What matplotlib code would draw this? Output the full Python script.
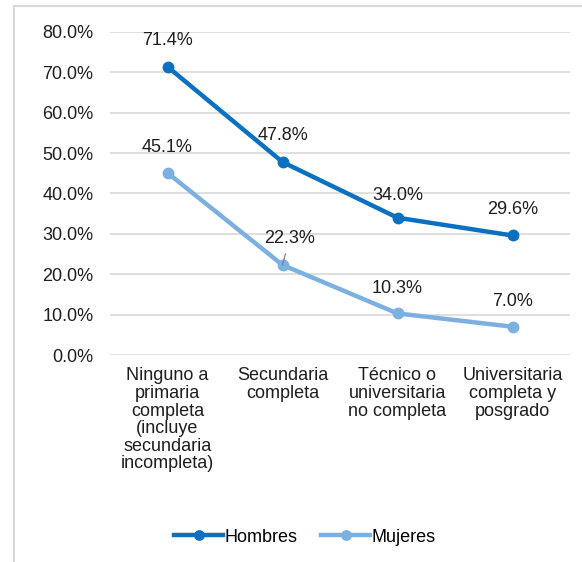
import matplotlib.pyplot as plt
from matplotlib.patches import Rectangle
from matplotlib.ticker import PercentFormatter

plt.rcParams['font.family'] = ['Liberation Sans', 'DejaVu Sans']

categories = ['Ninguno a\nprimaria\ncompleta\n(incluye\nsecundaria\nincompleta)',
              'Secundaria\ncompleta',
              'Técnico o\nuniversitaria\nno completa',
              'Universitaria\ncompleta y\nposgrado']
hombres = [71.4, 47.8, 34.0, 29.6]
mujeres = [45.1, 22.3, 10.3, 7.0]

c_h = '#0a70bf'
c_m = '#7cb0e0'
txt = '#1e1e1e'
fs = 13

fig = plt.figure(figsize=(5.82, 5.62), dpi=100)
# light frame round the chart (left/top edges visible)
fig.patches.append(Rectangle((14 / 582, -0.05), 1.0, 1 - 6 / 562 + 0.05,
                             transform=fig.transFigure, fill=False,
                             edgecolor='#d9d9d9', linewidth=1.5))

ax = fig.add_axes([110 / 582, 1 - 355 / 562, 460 / 582, 323 / 562])
x = list(range(len(categories)))

ax.plot(x, hombres, '-o', color=c_h, lw=3.2, ms=7.5, label='Hombres', zorder=3)
ax.plot(x, mujeres, '-o', color=c_m, lw=3.2, ms=7.5, label='Mujeres', zorder=3)

ax.set_xlim(-0.5, 3.5)
ax.set_ylim(0, 80)
ax.set_yticks(range(0, 81, 10))
ax.yaxis.set_major_formatter(PercentFormatter(decimals=1))
ax.set_xticks(x)
ax.set_xticklabels(categories, fontsize=fs, color=txt, linespacing=1.04)
ax.tick_params(axis='both', length=0, labelsize=fs, colors=txt)
ax.tick_params(axis='y', pad=12)
ax.tick_params(axis='x', pad=9)
ax.grid(axis='y', color='#d9d9d9', lw=1.2)
ax.set_axisbelow(True)
for s in ax.spines.values():
    s.set_visible(False)

for i, v in enumerate(hombres):
    dy = 16 if i == 2 else 19
    ax.annotate(f'{v:.1f}%', (i, v), xytext=(0, dy), textcoords='offset points',
                ha='center', va='center', fontsize=fs, color=txt)
for i, v in enumerate(mujeres):
    if i == 1:
        ax.annotate(f'{v:.1f}%', (i, v), xytext=(5, 19), textcoords='offset points',
                    ha='center', va='center', fontsize=fs, color=txt, zorder=5,
                    arrowprops=dict(arrowstyle='-', color='#7f7f7f', lw=0.9,
                                    shrinkA=3, shrinkB=0))
    else:
        ax.annotate(f'{v:.1f}%', (i, v), xytext=(0, 18), textcoords='offset points',
                    ha='center', va='center', fontsize=fs, color=txt)

fig.legend(loc='center', bbox_to_anchor=(305 / 582, 1 - 537 / 562), ncol=2,
           frameon=False, fontsize=fs, handlelength=2.7, handletextpad=0.1,
           columnspacing=1.3, markerscale=0.9)

fig.savefig('out.png', dpi=100)
